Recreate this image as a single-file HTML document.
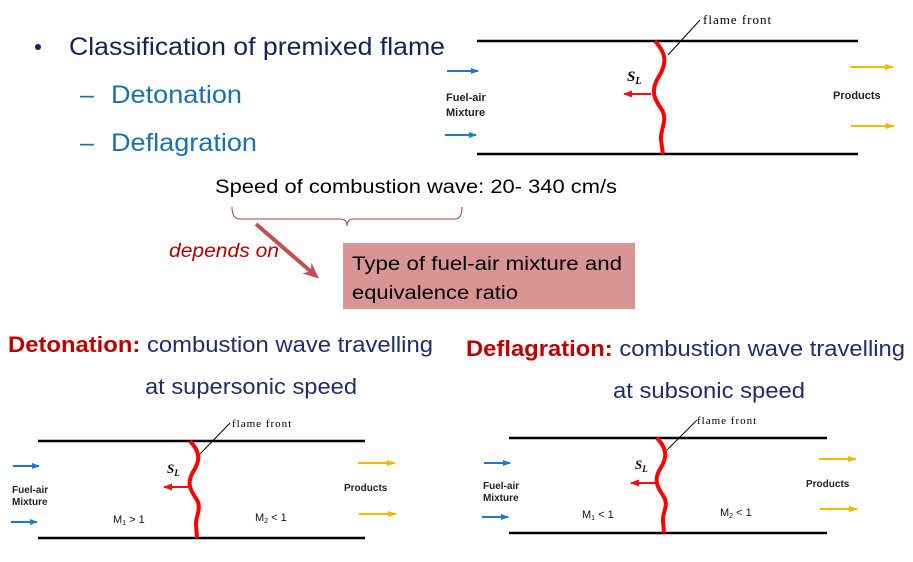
<!DOCTYPE html>
<html><head><meta charset="utf-8"><style>
html,body{margin:0;padding:0;background:#fff}
svg{display:block}
</style></head><body>
<svg width="913" height="562" viewBox="0 0 913 562" xmlns="http://www.w3.org/2000/svg">
<defs>
<marker id="ab" markerWidth="8" markerHeight="6" refX="7" refY="3" orient="auto" markerUnits="userSpaceOnUse"><path d="M0,0 L8,3 L0,6 Z" fill="#1f78c8"/></marker>
<marker id="ay" markerWidth="9" markerHeight="6" refX="8" refY="3" orient="auto" markerUnits="userSpaceOnUse"><path d="M0,0 L9,3 L0,6 Z" fill="#f5b800"/></marker>
<marker id="ar" markerWidth="9" markerHeight="7" refX="8" refY="3.5" orient="auto" markerUnits="userSpaceOnUse"><path d="M0,0 L9,3.5 L0,7 Z" fill="#ee1111"/></marker>
<marker id="ad" markerWidth="16" markerHeight="14" refX="12" refY="7" orient="auto" markerUnits="userSpaceOnUse"><path d="M0,0 L16,7 L0,14 L5,7 Z" fill="#c0504d"/></marker>
</defs>

<g font-family="Liberation Sans, Arial, sans-serif" font-size="25">
<circle cx="38" cy="47" r="3" fill="#13235a"/>
<text x="69" y="55" fill="#13235a" textLength="376" lengthAdjust="spacingAndGlyphs">Classification of premixed flame</text>
<text x="80" y="103" fill="#1a6fb5">–</text>
<text x="111" y="103" fill="#1a6fb5" textLength="131" lengthAdjust="spacingAndGlyphs">Detonation</text>
<text x="80" y="151" fill="#1a6fb5">–</text>
<text x="111" y="151" fill="#1a6fb5" textLength="146" lengthAdjust="spacingAndGlyphs">Deflagration</text>
</g>

<text x="215" y="193" font-family="Liberation Sans, sans-serif" font-size="19" fill="#000" textLength="402" lengthAdjust="spacingAndGlyphs">Speed of combustion wave: 20- 340 cm/s</text>
<path d="M232,207 Q232,219 240,219 L340,219 Q347,219 347,226 Q347,219 354,219 L455,219 Q462,219 462,207" fill="none" stroke="#a0403d" stroke-width="1"/>
<text x="169" y="257" font-family="Liberation Sans, sans-serif" font-style="italic" font-size="19" fill="#b00000" textLength="110" lengthAdjust="spacingAndGlyphs">depends on</text>
<line x1="256" y1="224" x2="316" y2="276" stroke="#c0504d" stroke-width="4" marker-end="url(#ad)"/>
<rect x="343" y="243" width="292" height="66" fill="#d99594"/>
<text x="352" y="270" font-family="Liberation Sans, sans-serif" font-size="19" fill="#000" textLength="270" lengthAdjust="spacingAndGlyphs">Type of fuel-air mixture and</text>
<text x="352" y="299" font-family="Liberation Sans, sans-serif" font-size="19" fill="#000" textLength="166" lengthAdjust="spacingAndGlyphs">equivalence ratio</text>

<!-- top diagram -->
<g font-family="Liberation Sans, Arial, sans-serif">
<line x1="477" y1="41" x2="858" y2="41" stroke="#000" stroke-width="2.5"/>
<line x1="477" y1="154" x2="858" y2="154" stroke="#000" stroke-width="2.5"/>
<path d="M655,41 C668,55 666,65 658,78 C650,92 655,100 662,110 C668,120 660,130 661,140 L663,154" fill="none" stroke="#f00" stroke-width="4"/>
<line x1="668" y1="55" x2="700" y2="20" stroke="#000" stroke-width="1"/>
<text x="703" y="24" font-family="Liberation Serif, serif" font-size="13" letter-spacing="1">flame front</text>
<text x="627" y="81" font-family="Liberation Serif, serif" font-style="italic" font-weight="bold" font-size="15">S<tspan font-size="10" dy="3">L</tspan></text>
<line x1="651" y1="94" x2="624" y2="94" stroke="#e11" stroke-width="2" marker-end="url(#ar)"/>
<line x1="447" y1="71" x2="478" y2="71" stroke="#1f78c8" stroke-width="2" marker-end="url(#ab)"/>
<line x1="445" y1="135" x2="476" y2="135" stroke="#1f78c8" stroke-width="2" marker-end="url(#ab)"/>
<text x="446" y="101" font-size="11" font-weight="bold" fill="#222">Fuel-air</text>
<text x="446" y="116" font-size="11" font-weight="bold" fill="#222">Mixture</text>
<text x="833" y="99" font-size="11" font-weight="bold" fill="#222">Products</text>
<line x1="850" y1="67" x2="893" y2="67" stroke="#f5b800" stroke-width="2" marker-end="url(#ay)"/>
<line x1="851" y1="126" x2="894" y2="126" stroke="#f5b800" stroke-width="2" marker-end="url(#ay)"/>
</g>

<!-- captions -->
<g font-family="Liberation Sans, Arial, sans-serif" font-size="22">
<text x="8" y="352" textLength="425" lengthAdjust="spacingAndGlyphs"><tspan fill="#c00000" font-weight="bold">Detonation:</tspan><tspan fill="#1f2d6b"> combustion wave travelling</tspan></text>
<text x="145" y="394" fill="#1f2d6b" textLength="212" lengthAdjust="spacingAndGlyphs">at supersonic speed</text>
<text x="466" y="356" textLength="439" lengthAdjust="spacingAndGlyphs"><tspan fill="#c00000" font-weight="bold">Deflagration:</tspan><tspan fill="#1f2d6b"> combustion wave travelling</tspan></text>
<text x="613" y="398" fill="#1f2d6b" textLength="192" lengthAdjust="spacingAndGlyphs">at subsonic speed</text>
</g>

<!-- bottom left diagram -->
<g font-family="Liberation Sans, Arial, sans-serif">
<line x1="38" y1="441" x2="365" y2="441" stroke="#000" stroke-width="2.5"/>
<line x1="38" y1="538" x2="365" y2="538" stroke="#000" stroke-width="2.5"/>
<path d="M190,441 C201,453 200,461 193,472 C186,484 191,491 197,500 C202,509 195,517 196,525 L197,538" fill="none" stroke="#f00" stroke-width="4"/>
<line x1="200" y1="454" x2="230" y2="423" stroke="#000" stroke-width="1"/>
<text x="232" y="427" font-family="Liberation Serif, serif" font-size="11" letter-spacing="1">flame front</text>
<text x="167" y="473" font-family="Liberation Serif, serif" font-style="italic" font-weight="bold" font-size="13">S<tspan font-size="9" dy="3">L</tspan></text>
<line x1="188" y1="487" x2="164" y2="487" stroke="#e11" stroke-width="2" marker-end="url(#ar)"/>
<line x1="13" y1="466" x2="39" y2="466" stroke="#1f78c8" stroke-width="2" marker-end="url(#ab)"/>
<line x1="11" y1="522" x2="37" y2="522" stroke="#1f78c8" stroke-width="2" marker-end="url(#ab)"/>
<text x="12" y="493" font-size="10" font-weight="bold" fill="#222">Fuel-air</text>
<text x="12" y="505" font-size="10" font-weight="bold" fill="#222">Mixture</text>
<text x="344" y="491" font-size="10" font-weight="bold" fill="#222">Products</text>
<line x1="358" y1="463" x2="395" y2="463" stroke="#f5b800" stroke-width="2" marker-end="url(#ay)"/>
<line x1="359" y1="514" x2="396" y2="514" stroke="#f5b800" stroke-width="2" marker-end="url(#ay)"/>
<text x="113" y="523" font-size="11" fill="#111">M<tspan font-size="7" dy="2">1</tspan><tspan dy="-2"> &gt; 1</tspan></text>
<text x="255" y="521" font-size="11" fill="#111">M<tspan font-size="7" dy="2">2</tspan><tspan dy="-2"> &lt; 1</tspan></text>
</g>

<!-- bottom right diagram -->
<g font-family="Liberation Sans, Arial, sans-serif">
<line x1="509" y1="438" x2="827" y2="438" stroke="#000" stroke-width="2.5"/>
<line x1="509" y1="533" x2="827" y2="533" stroke="#000" stroke-width="2.5"/>
<path d="M657,438 C668,450 667,458 660,469 C653,481 658,488 664,497 C669,506 662,513 663,521 L664,533" fill="none" stroke="#f00" stroke-width="4"/>
<line x1="667" y1="450" x2="697" y2="420" stroke="#000" stroke-width="1"/>
<text x="697" y="424" font-family="Liberation Serif, serif" font-size="11" letter-spacing="1">flame front</text>
<text x="635" y="469" font-family="Liberation Serif, serif" font-style="italic" font-weight="bold" font-size="13">S<tspan font-size="9" dy="3">L</tspan></text>
<line x1="655" y1="483" x2="631" y2="483" stroke="#e11" stroke-width="2" marker-end="url(#ar)"/>
<line x1="484" y1="463" x2="510" y2="463" stroke="#1f78c8" stroke-width="2" marker-end="url(#ab)"/>
<line x1="482" y1="517" x2="508" y2="517" stroke="#1f78c8" stroke-width="2" marker-end="url(#ab)"/>
<text x="483" y="489" font-size="10" font-weight="bold" fill="#222">Fuel-air</text>
<text x="483" y="501" font-size="10" font-weight="bold" fill="#222">Mixture</text>
<text x="806" y="487" font-size="10" font-weight="bold" fill="#222">Products</text>
<line x1="819" y1="459" x2="856" y2="459" stroke="#f5b800" stroke-width="2" marker-end="url(#ay)"/>
<line x1="820" y1="509" x2="857" y2="509" stroke="#f5b800" stroke-width="2" marker-end="url(#ay)"/>
<text x="582" y="518" font-size="11" fill="#111">M<tspan font-size="7" dy="2">1</tspan><tspan dy="-2"> &lt; 1</tspan></text>
<text x="720" y="516" font-size="11" fill="#111">M<tspan font-size="7" dy="2">2</tspan><tspan dy="-2"> &lt; 1</tspan></text>
</g>
</svg>
</body></html>
